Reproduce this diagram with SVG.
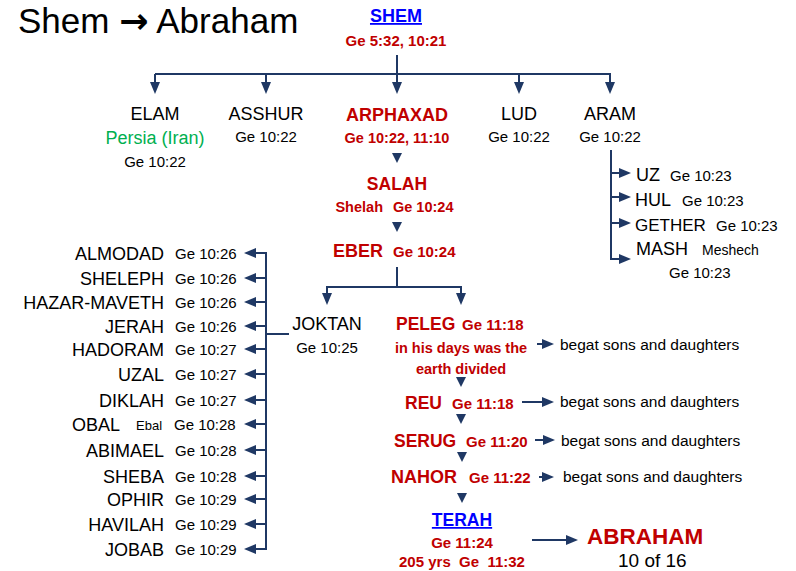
<svg xmlns="http://www.w3.org/2000/svg" width="796" height="571" viewBox="0 0 796 571">
<style>
text{font-family:"Liberation Sans",Arial,sans-serif;fill:#000}
.c{text-anchor:middle}
.e{text-anchor:end}
.n{font-size:18px}
.r{font-size:15px}
.rb{font-size:15px;font-weight:bold;fill:#c00000}
.nb{font-size:17.5px;font-weight:bold;fill:#c00000}
.lnk{font-weight:bold;fill:#0000ff;text-decoration:underline}
.g{fill:#00b050}
.b{font-size:15.5px}
.ln{fill:none;stroke:#1f3864;stroke-width:2}
.tri{fill:#1f3864}
</style>
<defs>
<marker id="ah" viewBox="0 0 12 10" refX="9" refY="5" markerWidth="12" markerHeight="10" markerUnits="userSpaceOnUse" orient="auto">
<path d="M0,0 L12,5 L0,10 z" fill="#1f3864"/>
</marker>
</defs>
<rect width="796" height="571" fill="#fff"/>
<text x="18" y="33" style="font-size:35px" xml:space="preserve">Shem <tspan style="font-family:'DejaVu Sans',sans-serif;font-weight:bold">→</tspan> Abraham</text>

<g id="connectors">
<path class="ln" d="M155,74 H610"/>
<path class="ln" d="M397,55 V91" marker-end="url(#ah)"/>
<path class="ln" d="M155,74 V91" marker-end="url(#ah)"/>
<path class="ln" d="M266,74 V91" marker-end="url(#ah)"/>
<path class="ln" d="M519,74 V91" marker-end="url(#ah)"/>
<path class="ln" d="M610,73 V91" marker-end="url(#ah)"/>
<polygon class="tri" points="392,153 402,153 397,163"/>
<polygon class="tri" points="392,222 402,222 397,232"/>
<path class="ln" d="M397,267 V287"/>
<path class="ln" d="M327,287 H461"/>
<path class="ln" d="M327,286 V302" marker-end="url(#ah)"/>
<path class="ln" d="M461,286 V302" marker-end="url(#ah)"/>
<path class="ln" d="M611,150 V259 H628" marker-end="url(#ah)"/>
<path class="ln" d="M611,173 H628" marker-end="url(#ah)"/>
<path class="ln" d="M611,197 H628" marker-end="url(#ah)"/>
<path class="ln" d="M611,223 H628" marker-end="url(#ah)"/>
<path class="ln" d="M266,252 V550"/>
<path class="ln" d="M289,334 H266"/>
<path class="ln" d="M267,253 H247" marker-end="url(#ah)"/>
<path class="ln" d="M267,278 H247" marker-end="url(#ah)"/>
<path class="ln" d="M267,302 H247" marker-end="url(#ah)"/>
<path class="ln" d="M267,326 H247" marker-end="url(#ah)"/>
<path class="ln" d="M267,349 H247" marker-end="url(#ah)"/>
<path class="ln" d="M267,374 H247" marker-end="url(#ah)"/>
<path class="ln" d="M267,400 H247" marker-end="url(#ah)"/>
<path class="ln" d="M267,424 H247" marker-end="url(#ah)"/>
<path class="ln" d="M267,450 H247" marker-end="url(#ah)"/>
<path class="ln" d="M267,476 H247" marker-end="url(#ah)"/>
<path class="ln" d="M267,499 H247" marker-end="url(#ah)"/>
<path class="ln" d="M267,524 H247" marker-end="url(#ah)"/>
<path class="ln" d="M267,549 H247" marker-end="url(#ah)"/>
<path class="ln" d="M537,344 H551" marker-end="url(#ah)"/>
<polygon class="tri" points="456,377 466,377 461,387"/>
<path class="ln" d="M522,402 H551" marker-end="url(#ah)"/>
<polygon class="tri" points="456,414 466,414 461,424"/>
<path class="ln" d="M535,440 H552" marker-end="url(#ah)"/>
<polygon class="tri" points="457,452 467,452 462,462"/>
<path class="ln" d="M539,477 H551" marker-end="url(#ah)"/>
<polygon class="tri" points="457,493 467,493 462,503"/>
<path class="ln" d="M532,540 H575" marker-end="url(#ah)"/>
</g>

<g id="shem"><text class="c lnk" x="396" y="22" style="font-size:18px">SHEM</text><text class="c rb" x="396" y="46">Ge 5:32, 10:21</text></g>
<g id="elam"><text class="c n" x="155" y="120">ELAM</text><text class="c g" x="155" y="144" style="font-size:18px">Persia (Iran)</text><text class="c r" x="155" y="167">Ge 10:22</text></g>
<g id="asshur"><text class="c n" x="266" y="120">ASSHUR</text><text class="c r" x="266" y="142">Ge 10:22</text></g>
<g id="arphaxad"><text class="c" x="397" y="121" style="font-size:18px;font-weight:bold;fill:#c00000">ARPHAXAD</text><text class="c rb" x="397" y="143" style="font-size:14.5px">Ge 10:22, 11:10</text></g>
<g id="lud"><text class="c n" x="519" y="120">LUD</text><text class="c r" x="519" y="142">Ge 10:22</text></g>
<g id="aram"><text class="c n" x="610" y="120">ARAM</text><text class="c r" x="610" y="142">Ge 10:22</text></g>
<g id="salah"><text class="c nb" x="397" y="190">SALAH</text><text class="e rb" x="383" y="212" style="font-size:14.5px">Shelah</text><text class="rb" x="393" y="212" style="font-size:14.5px">Ge 10:24</text></g>
<g id="eber"><text class="e" x="383" y="257" style="font-size:18px;font-weight:bold;fill:#c00000">EBER</text><text class="rb" x="393" y="257">Ge 10:24</text></g>

<g id="uz"><text class="n" x="636" y="181">UZ</text><text class="r" x="670" y="181">Ge 10:23</text></g>
<g id="hul"><text class="n" x="635" y="206">HUL</text><text class="r" x="682" y="206">Ge 10:23</text></g>
<g id="gether"><text x="635" y="231" style="font-size:17px">GETHER</text><text class="r" x="716" y="231">Ge 10:23</text></g>
<g id="mash"><text class="n" x="636" y="255">MASH</text><text x="702" y="255" style="font-size:14px">Meshech</text><text class="r" x="669" y="278">Ge 10:23</text></g>

<g id="joktan"><text class="c n" x="327" y="330">JOKTAN</text><text class="c r" x="327" y="353">Ge 10:25</text></g>

<g id="almodad"><text class="e n" x="164" y="259.5">ALMODAD</text><text class="r" x="175" y="258.5">Ge 10:26</text></g>
<g id="sheleph"><text class="e n" x="164" y="284.5">SHELEPH</text><text class="r" x="175" y="283.5">Ge 10:26</text></g>
<g id="hazarmaveth"><text class="e n" x="164" y="308.5">HAZAR-MAVETH</text><text class="r" x="175" y="307.5">Ge 10:26</text></g>
<g id="jerah"><text class="e n" x="164" y="332.5">JERAH</text><text class="r" x="175" y="331.5">Ge 10:26</text></g>
<g id="hadoram"><text class="e n" x="164" y="355.5">HADORAM</text><text class="r" x="175" y="354.5">Ge 10:27</text></g>
<g id="uzal"><text class="e n" x="164" y="380.5">UZAL</text><text class="r" x="175" y="379.5">Ge 10:27</text></g>
<g id="diklah"><text class="e n" x="164" y="406.5">DIKLAH</text><text class="r" x="175" y="405.5">Ge 10:27</text></g>
<g id="obal"><text class="e n" x="120" y="430.5">OBAL</text><text x="136" y="429.5" style="font-size:13px">Ebal</text><text class="r" x="174" y="429.5">Ge 10:28</text></g>
<g id="abimael"><text class="e n" x="164" y="456.5">ABIMAEL</text><text class="r" x="175" y="455.5">Ge 10:28</text></g>
<g id="sheba"><text class="e n" x="164" y="482.5">SHEBA</text><text class="r" x="175" y="481.5">Ge 10:28</text></g>
<g id="ophir"><text class="e n" x="164" y="505.5">OPHIR</text><text class="r" x="175" y="504.5">Ge 10:29</text></g>
<g id="havilah"><text class="e n" x="164" y="530.5">HAVILAH</text><text class="r" x="175" y="529.5">Ge 10:29</text></g>
<g id="jobab"><text class="e n" x="164" y="555.5">JOBAB</text><text class="r" x="175" y="554.5">Ge 10:29</text></g>

<g id="peleg"><text class="nb" x="396" y="330">PELEG</text><text class="rb" x="462" y="330">Ge 11:18</text><text class="c rb" x="461" y="353" style="font-size:14.5px">in his days was the</text><text class="c rb" x="461" y="374" style="font-size:14.5px">earth divided</text></g>
<g id="peleg-sons"><text class="b" x="560" y="350">begat sons and daughters</text></g>
<g id="reu"><text class="nb" x="405" y="409">REU</text><text class="rb" x="452" y="409">Ge 11:18</text></g>
<g id="reu-sons"><text class="b" x="560" y="407">begat sons and daughters</text></g>
<g id="serug"><text class="nb" x="394" y="447">SERUG</text><text class="rb" x="466" y="447">Ge 11:20</text></g>
<g id="serug-sons"><text class="b" x="561" y="446">begat sons and daughters</text></g>
<g id="nahor"><text class="nb" x="391" y="483" style="font-size:18px">NAHOR</text><text class="rb" x="469" y="483">Ge 11:22</text></g>
<g id="nahor-sons"><text class="b" x="563" y="482">begat sons and daughters</text></g>
<g id="terah"><text class="c lnk" x="462" y="526" style="font-size:17.5px">TERAH</text><text class="c rb" x="462" y="548">Ge 11:24</text><text class="c rb" x="462" y="567" xml:space="preserve">205 yrs  Ge  11:32</text></g>
<g id="abraham"><text x="587" y="544" style="font-size:22.5px;font-weight:bold;fill:#c00000">ABRAHAM</text><text x="618" y="567" style="font-size:19px">10 of 16</text></g>
</svg>
